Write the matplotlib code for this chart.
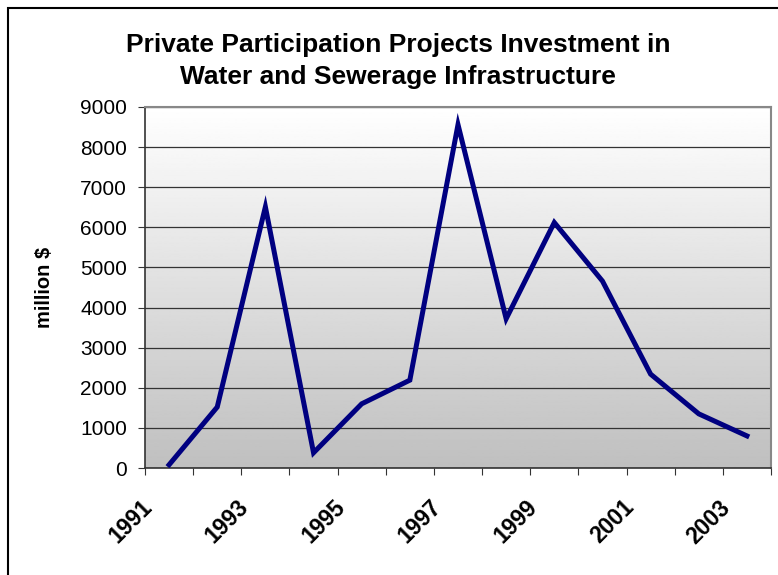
import numpy as np
import matplotlib
matplotlib.use("Agg")
import matplotlib.pyplot as plt
from matplotlib.patches import Rectangle

# Data
years = ['1991', '1992', '1993', '1994', '1995', '1996', '1997',
         '1998', '1999', '2000', '2001', '2002', '2003']
investment = [80, 1520, 6510, 380, 1600, 2190, 8560,
              3720, 6120, 4660, 2340, 1350, 800]

plt.rcParams['font.family'] = ['Liberation Sans', 'DejaVu Sans']

fig = plt.figure(figsize=(7.78, 5.75), dpi=100)
ax = fig.add_axes([145 / 778, 1 - 468 / 575, (771 - 145) / 778, (468 - 107) / 575])

# frame around the chart area (right/bottom cut off like the original)
fig.patches.append(Rectangle((8 / 778, -0.05), 1.2, 1 - 8 / 575 + 0.05,
                             transform=fig.transFigure, fill=False,
                             edgecolor='black', linewidth=1.5))

# gradient background, white top to grey bottom
grad = np.linspace(1.0, 0.75, 256).reshape(-1, 1)
ax.imshow(grad, cmap='gray', vmin=0, vmax=1, aspect='auto',
          extent=(0, 1, 0, 1), transform=ax.transAxes, zorder=0)

x = np.arange(len(years))
ax.plot(x, investment, color='#000080', linewidth=3.6, zorder=3,
        solid_joinstyle='miter')

ax.set_xlim(-0.5, len(years) - 0.5)
ax.set_ylim(0, 9000)
ax.set_yticks(range(0, 9001, 1000))
ax.yaxis.grid(True, color='#333333', linewidth=0.9)
for gl in ax.get_ygridlines():
    gl.set_zorder(1)

# ticks on category boundaries, labels on every other category
ax.set_xticks(np.arange(-0.5, len(years), 1.0))
ax.set_xticklabels([])
ax.set_xticks(x[::2] - 0.25, minor=True)
ax.set_xticklabels(years[::2], minor=True, rotation=45, ha='right', va='top',
                   fontsize=16.5, fontweight='bold')
ax.tick_params(axis='x', which='minor', length=0, pad=20)
ax.tick_params(axis='x', which='major', length=5, color='#333333')
ax.tick_params(axis='y', length=5, color='#333333', labelsize=15, pad=8)

for s in ['top', 'right']:
    ax.spines[s].set_color('#888888')
    ax.spines[s].set_linewidth(1.5)
for s in ['left', 'bottom']:
    ax.spines[s].set_color('#333333')
    ax.spines[s].set_linewidth(1.2)

ax.set_ylabel('million $', fontsize=14.5, fontweight='bold', labelpad=19)

fig.text(398 / 778, 1 - 61 / 575, 'Private Participation Projects Investment in\nWater and Sewerage Infrastructure',
         ha='center', va='center', fontsize=19, fontweight='bold', linespacing=1.4)

fig.savefig('out.png', dpi=100)
